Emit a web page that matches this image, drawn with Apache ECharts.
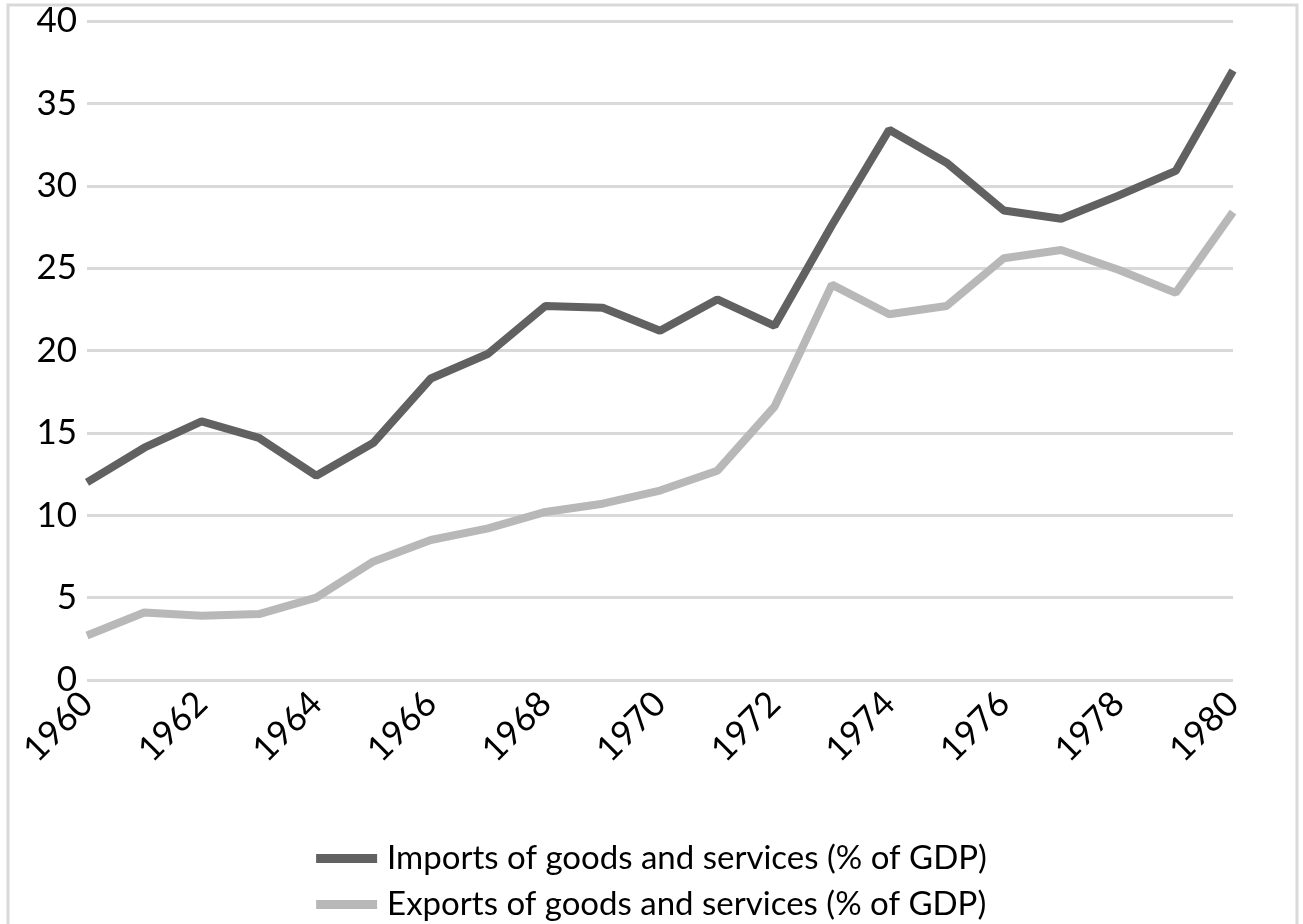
<!DOCTYPE html>
<html>
<head>
<meta charset="utf-8">
<title>Imports and exports</title>
<script src="https://cdn.jsdelivr.net/npm/echarts@6/dist/echarts.min.js"></script>
<style>
  html, body { margin: 0; padding: 0; background: #fff; }
  #chart { width: 1303px; height: 924px; }
</style>
</head>
<body>
<div id="chart"></div>
<script>
// data
var years = ['1960','1961','1962','1963','1964','1965','1966','1967','1968','1969','1970',
             '1971','1972','1973','1974','1975','1976','1977','1978','1979','1980'];
var imports = [12.0, 14.1, 15.7, 14.7, 12.4, 14.4, 18.3, 19.8, 22.7, 22.6, 21.2,
               23.1, 21.5, 27.6, 33.4, 31.4, 28.5, 28.0, 29.4, 30.9, 37.0];
var exports = [2.7, 4.1, 3.9, 4.0, 5.0, 7.2, 8.5, 9.2, 10.2, 10.7, 11.5,
               12.7, 16.6, 24.0, 22.2, 22.7, 25.6, 26.1, 24.9, 23.5, 28.4];
var yTicks = [0, 5, 10, 15, 20, 25, 30, 35, 40];

var font = 'Lato, "Liberation Sans", sans-serif';
var chart = echarts.init(document.getElementById('chart'));

chart.setOption({
  animation: false,
  backgroundColor: '#fff',
  textStyle: { fontFamily: font },
  graphic: [{
    type: 'rect',
    shape: { x: 8, y: 5, width: 1289, height: 940 },
    style: { fill: 'none', stroke: '#d9d9d9', lineWidth: 3 },
    silent: true
  }],
  grid: { left: 87, right: 70, top: 21, bottom: 244 },
  legend: {
    orient: 'vertical',
    left: 'center',
    bottom: -2,
    icon: 'rect',
    itemWidth: 61,
    itemHeight: 9,
    itemGap: 13,
    textStyle: { fontSize: 33, color: '#000', fontFamily: font, padding: [0, 0, 0, 5] },
    data: ['Imports of goods and services (% of GDP)', 'Exports of goods and services (% of GDP)']
  },
  xAxis: {
    type: 'category',
    data: years,
    boundaryGap: false,
    axisLine: { show: false },
    axisTick: { show: false },
    axisLabel: {
      interval: 1,
      rotate: 45,
      fontSize: 35,
      color: '#000',
      margin: 18
    }
  },
  yAxis: {
    type: 'value',
    min: yTicks[0],
    max: yTicks[yTicks.length - 1],
    interval: 5,
    axisLine: { show: false },
    axisTick: { show: false },
    axisLabel: { fontSize: 35, color: '#000', margin: 10 },
    splitLine: { lineStyle: { color: '#d9d9d9', width: 3 } }
  },
  series: [
    {
      name: 'Imports of goods and services (% of GDP)',
      type: 'line',
      data: imports,
      symbol: 'none',
      color: '#616161',
      lineStyle: { width: 8, color: '#616161' }
    },
    {
      name: 'Exports of goods and services (% of GDP)',
      type: 'line',
      data: exports,
      symbol: 'none',
      color: '#b8b8b8',
      lineStyle: { width: 8, color: '#b8b8b8' }
    }
  ]
});
</script>
</body>
</html>
